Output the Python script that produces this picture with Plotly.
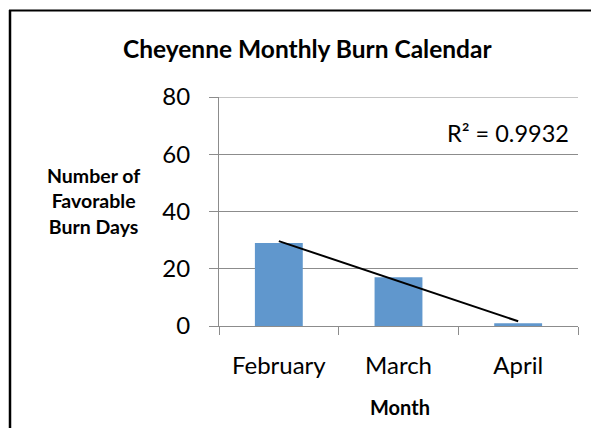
import numpy as np
import plotly.graph_objects as go

months = ["February", "March", "April"]
burn_days = [29, 17, 1]
y_ticks = [0, 20, 40, 60, 80]
title_text = "Cheyenne Monthly Burn Calendar"
y_title = "Number of<br>Favorable<br>Burn Days"
x_title = "Month"

# linear trendline
xi = np.arange(1, len(burn_days) + 1)
slope, intercept = np.polyfit(xi, burn_days, 1)
trend = slope * xi + intercept
ss_res = np.sum((np.array(burn_days) - trend) ** 2)
ss_tot = np.sum((np.array(burn_days) - np.mean(burn_days)) ** 2)
r2 = 1 - ss_res / ss_tot

OFF = 8  # page body margin
W, H = 599 - OFF, 428 - OFF
L, R, T, B = 219 - OFF, 578 - OFF, 97 - OFF, 326 - OFF
pw, ph = R - L, B - T

def px(x):
    return (x - OFF - L) / pw

def py(y):
    return (B - (y - OFF)) / ph

FONT = "Lato, Carlito, Calibri, sans-serif"
GRID = "#8c8c8c"

fig = go.Figure()
fig.add_trace(go.Bar(x=months, y=burn_days, marker=dict(color="#6097cd", line=dict(width=0)),
                     showlegend=False))
fig.add_trace(go.Scatter(x=months, y=trend, mode="lines", line=dict(color="black", width=2),
                         showlegend=False))

fig.update_layout(
    width=W, height=H,
    margin=dict(l=L, r=W - R, t=T, b=H - B, pad=0),
    paper_bgcolor="white", plot_bgcolor="white",
    bargap=0.6,
    font=dict(family=FONT, color="black"),
    xaxis=dict(showline=True, linecolor=GRID, linewidth=1, ticks="outside", ticklen=8,
               tickcolor=GRID, tickson="boundaries", showgrid=False,
               tickfont=dict(size=24, family=FONT), ticklabelstandoff=18),
    yaxis=dict(range=[0, max(y_ticks)], tickvals=y_ticks, showline=True, linecolor=GRID, linewidth=1,
               ticks="outside", ticklen=9, tickcolor=GRID, showgrid=True, gridcolor=GRID,
               gridwidth=1, zeroline=False, tickfont=dict(size=24, family=FONT),
               ticklabelstandoff=14),
    shapes=[
        # top gridline (plotly omits the gridline on the plot edge)
        dict(type="line", xref="paper", yref="y", x0=0, x1=1, y0=max(y_ticks), y1=max(y_ticks),
             line=dict(color=GRID, width=1), layer="below"),
        dict(type="line", xref="paper", yref="paper", x0=px(10), x1=px(10), y0=py(10), y1=py(440),
             line=dict(color="black", width=2.5)),
        dict(type="line", xref="paper", yref="paper", x0=px(9), x1=px(610), y0=py(10.5), y1=py(10.5),
             line=dict(color="black", width=2)),
    ],
    annotations=[
        dict(text=title_text, xref="paper", yref="paper", x=px(307), y=py(49), showarrow=False,
             font=dict(size=24.5, family=FONT, weight="bold"), xanchor="center", yanchor="middle"),
        dict(text=y_title, xref="paper", yref="paper", x=px(93), y=py(201), showarrow=False,
             font=dict(size=19.5, family=FONT, weight="bold"), xanchor="center", yanchor="middle",
             align="center"),
        dict(text=x_title, xref="paper", yref="paper", x=px(400), y=py(407), showarrow=False,
             font=dict(size=20, family=FONT, weight="bold"), xanchor="center", yanchor="middle"),
        dict(text="R² = " + f"{r2:.4f}", xref="paper", yref="paper", x=px(508), y=py(133),
             showarrow=False, font=dict(size=23.5, family=FONT), xanchor="center", yanchor="middle"),
    ],
)

fig.write_html("out.html")
